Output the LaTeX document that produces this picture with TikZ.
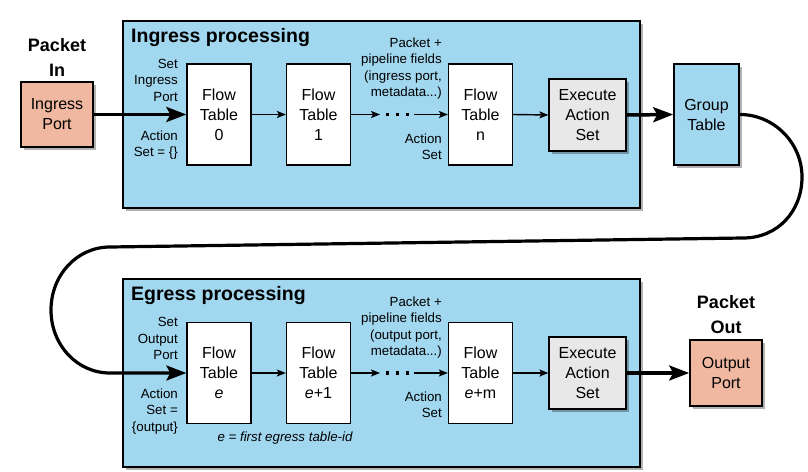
\documentclass[tikz,border=0pt]{standalone}
\usepackage{fontspec}
\setmainfont{Liberation Sans}
\usetikzlibrary{arrows.meta,shadows}
\definecolor{procblue}{RGB}{161,215,239}
\definecolor{portsalmon}{RGB}{240,184,160}
\definecolor{execgrey}{RGB}{232,232,232}
\tikzset{
  shad/.style={drop shadow={shadow xshift=3pt,shadow yshift=-3pt,opacity=0.3,fill=black}},
  procbox/.style={draw=black,line width=1.6pt,fill=procblue,shad},
  flowbox/.style={draw=black,line width=1.3pt,fill=white,minimum width=64pt,minimum height=101pt,inner sep=0pt,align=center,font=\fontsize{16}{20}\selectfont},
  execbox/.style={draw=black,line width=1.3pt,fill=execgrey,minimum width=77pt,minimum height=72pt,inner sep=0pt,align=center,font=\fontsize{16}{20}\selectfont,shad},
  portbox/.style={draw=black,line width=1.6pt,fill=portsalmon,minimum width=72pt,minimum height=65pt,inner sep=0pt,align=center,font=\fontsize{16}{20}\selectfont,shad},
  groupbox/.style={draw=black,line width=1.6pt,fill=procblue,minimum width=65pt,minimum height=101pt,inner sep=0pt,align=center,font=\fontsize{16}{20}\selectfont,shad},
  lbl/.style={inner sep=0pt,align=right,anchor=east,font=\fontsize{13.3}{16.5}\selectfont},
  title/.style={inner sep=0pt,anchor=west,font=\fontsize{19.5}{22}\selectfont\bfseries},
  bigtxt/.style={inner sep=0pt,align=center,font=\fontsize{18}{25}\selectfont\bfseries},
  thickarrow/.style={line width=3.5pt,-{Stealth[length=20pt,width=15pt,inset=4pt]}},
  thinarrow/.style={line width=1.4pt,-{Stealth[length=9pt,width=7pt,inset=2pt]}},
}
\begin{document}
\begin{tikzpicture}[x=1pt,y=-1pt]
\useasboundingbox (0,0) rectangle (808,471);
% processing boxes
\node[procbox,minimum width=517pt,minimum height=187pt,inner sep=0pt] (ingress) at (381.5,114.5) {};
\node[procbox,minimum width=517pt,minimum height=188pt,inner sep=0pt] (egress) at (381.5,373) {};
\node[title] (ingtitle) at (131,38) {Ingress processing};
\node[title] (egrtitle) at (131,295) {Egress processing};
% ingress
\node[portbox] (pin) at (57,114.5) {Ingress\\Port};
\node[bigtxt] (pintxt) at (57,57.5) {Packet\\In};
\node[flowbox] (ft0) at (219,114.5) {Flow\\Table\\0};
\node[flowbox] (ft1) at (318.5,114.5) {Flow\\Table\\1};
\node[flowbox] (ftn) at (480.5,114.5) {Flow\\Table\\n};
\node[execbox] (exec1) at (587.5,115) {Execute\\Action\\Set};
\node[groupbox] (group) at (706.5,114.5) {Group\\Table};
\node[lbl] (l1) at (178,80) {Set\\Ingress\\Port};
\node[lbl] (l2) at (178,145) {Action\\Set = \{\}};
\node[lbl] (l3) at (442,68.5) {Packet +\\pipeline fields\\(ingress port,\\metadata...)};
\node[lbl] (l4) at (442,146.5) {Action\\Set};
% egress
\node[flowbox] (fte) at (219,373) {Flow\\Table\\\textit{e}};
\node[flowbox] (fte1) at (318.5,373) {Flow\\Table\\\textit{e}+1};
\node[flowbox] (ftem) at (480.5,373) {Flow\\Table\\\textit{e}+m};
\node[execbox] (exec2) at (587.5,373) {Execute\\Action\\Set};
\node[portbox,minimum height=66pt] (pout) at (726,373) {Output\\Port};
\node[bigtxt] (pouttxt) at (726,315) {Packet\\Out};
\node[lbl] (e1) at (178,338.5) {Set\\Output\\Port};
\node[lbl] (e2) at (178,411.5) {Action\\Set =\\\{output\}};
\node[lbl] (e3) at (442,327.5) {Packet +\\pipeline fields\\(output port,\\metadata...)};
\node[lbl] (e4) at (442,404.5) {Action\\Set};
\node[inner sep=0pt,font=\fontsize{13.3}{16}\selectfont\itshape] (enote) at (285,438) {e = first egress table-id};
% dots coordinates
\coordinate (d1a) at (380,114.5);
\coordinate (d1b) at (414,114.5);
\coordinate (d2a) at (380,373);
\coordinate (d2b) at (414,373);
\foreach \x in {387.5,397.5,407.5}{
  \fill (\x-1.8,112.7) rectangle (\x+1.8,116.3);
  \fill (\x-1.8,371.2) rectangle (\x+1.8,374.8);
}
% connectors ingress
\draw[thickarrow] (pin.east) -- (ft0.west);
\draw[thinarrow] (ft0.east) -- (ft1.west);
\draw[thinarrow] (ft1.east) -- (d1a);
\draw[thinarrow] (d1b) -- (ftn.west);
\draw[thinarrow] (ftn.east) -- (exec1.west);
\draw[thickarrow] (exec1.east) -- (group.west);
% loop
\draw[line width=3.2pt,-{Stealth[length=20pt,width=15pt,inset=4pt]}] (group.east)
  .. controls (774,114.5) and (802,143) .. (802,177)
  .. controls (802,211) and (778,238) .. (743,238)
  -- (110,247)
  .. controls (77,247) and (51,275) .. (51,310)
  .. controls (51,345) and (77,373) .. (110,373)
  -- (fte.west);
% connectors egress
\draw[thinarrow] (fte.east) -- (fte1.west);
\draw[thinarrow] (fte1.east) -- (d2a);
\draw[thinarrow] (d2b) -- (ftem.west);
\draw[thinarrow] (ftem.east) -- (exec2.west);
\draw[thickarrow] (exec2.east) -- (pout.west);
\end{tikzpicture}
\end{document}
